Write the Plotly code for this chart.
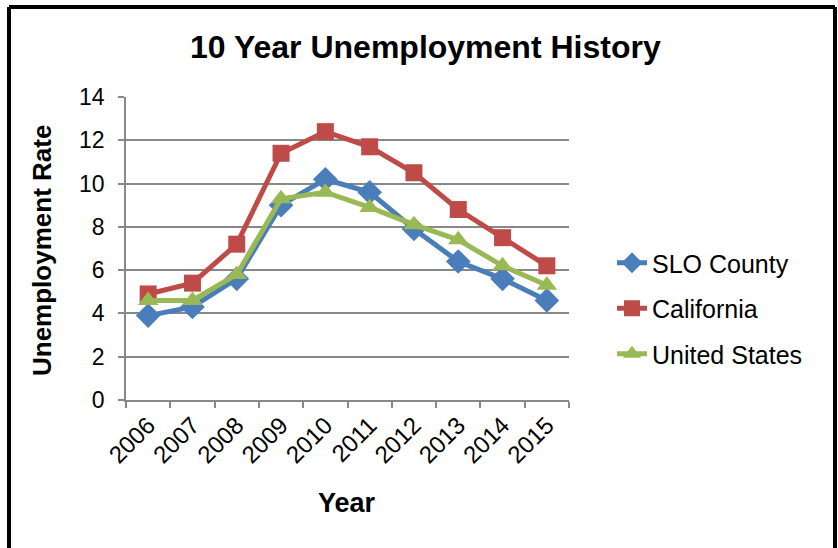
import plotly.graph_objects as go

# Annual unemployment rate (%)
years = ["2006", "2007", "2008", "2009", "2010", "2011", "2012", "2013", "2014", "2015"]
slo_county = [3.9, 4.3, 5.6, 9.0, 10.2, 9.6, 7.9, 6.4, 5.6, 4.6]
california = [4.9, 5.4, 7.2, 11.4, 12.4, 11.7, 10.5, 8.8, 7.5, 6.2]
united_states = [4.6, 4.6, 5.8, 9.3, 9.6, 8.9, 8.1, 7.4, 6.2, 5.3]

series = [
    ("SLO County", slo_county, "#4A7EBB", "diamond", 19),
    ("California", california, "#BE4B48", "square", 17),
    ("United States", united_states, "#98B954", "triangle-up", 18),
]

W, H = 838, 548
L, R, T, B = 126, 269, 97, 148
pw, ph = W - L - R, H - T - B


def px_x(x):
    return (x - L) / pw


def px_y(y):
    return (H - B - y) / ph


fig = go.Figure()
for i, (name, vals, color, sym, size) in enumerate(series):
    fig.add_trace(go.Scatter(
        x=years, y=vals, name=name, mode="lines+markers",
        line=dict(color=color, width=5),
        marker=dict(symbol=sym, size=size, color=color, line=dict(width=0)),
        legendgroup=f"g{i}",
    ))

font = "Liberation Sans, Arial, sans-serif"
grid = "#888888"

fig.update_layout(
    width=W, height=H,
    margin=dict(l=L, r=R, t=T, b=B),
    paper_bgcolor="white", plot_bgcolor="white",
    font=dict(family=font, color="black", size=22),
    showlegend=True,
    legend=dict(
        x=px_x(612), y=px_y(240), xanchor="left", yanchor="top",
        font=dict(size=25, family=font, color="black"),
        traceorder="grouped", tracegroupgap=10,
        bgcolor="rgba(0,0,0,0)", itemwidth=30,
    ),
    xaxis=dict(
        type="category", range=[-0.5, 9.5],
        showgrid=False, showline=True, linecolor=grid, linewidth=1.5,
        ticks="outside", ticklen=6, tickcolor=grid, tickwidth=1.5,
        tickson="boundaries", tickangle=-45,
        tickfont=dict(size=24, family=font, color="black"),
        zeroline=False,
    ),
    yaxis=dict(
        range=[0, 14], dtick=2, tick0=0,
        showgrid=True, gridcolor=grid, gridwidth=1.5,
        showline=True, linecolor=grid, linewidth=1.5,
        ticks="outside", ticklen=6, tickcolor=grid, tickwidth=1.5,
        ticklabelstandoff=9,
        tickfont=dict(size=23, family=font, color="black"),
        zeroline=False,
    ),
)

# chart title and axis titles
fig.add_annotation(
    text="<b>10 Year Unemployment History</b>", xref="paper", yref="paper",
    x=px_x(425), y=px_y(47), xanchor="center", yanchor="middle",
    showarrow=False, font=dict(size=32, family=font, color="black"),
)
fig.add_annotation(
    text="<b>Year</b>", xref="paper", yref="paper",
    x=px_x(347), y=px_y(503), xanchor="center", yanchor="middle",
    showarrow=False, font=dict(size=27, family=font, color="black"),
)
fig.add_annotation(
    text="<b>Unemployment Rate</b>", xref="paper", yref="paper",
    x=px_x(42), y=px_y(251), xanchor="center", yanchor="middle",
    textangle=-90, showarrow=False,
    font=dict(size=26, family=font, color="black"),
)

# chart frame (open at the bottom edge of the page)
for x0, y0, x1, y1 in [(9, 7, 835, 7), (9, 7, 9, 560), (835, 7, 835, 560)]:
    fig.add_shape(
        type="line", xref="paper", yref="paper",
        x0=px_x(x0), y0=px_y(y0), x1=px_x(x1), y1=px_y(y1),
        line=dict(color="black", width=4),
    )

fig.write_html("out.html")
